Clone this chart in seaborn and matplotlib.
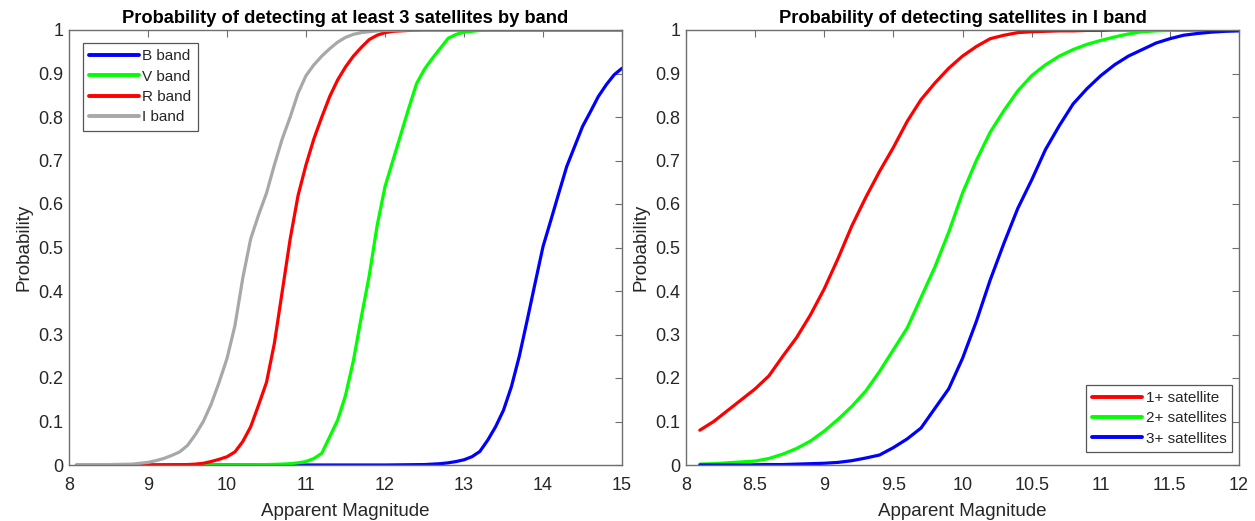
import matplotlib
matplotlib.use("Agg")
import matplotlib.pyplot as plt
import seaborn as sns
import pandas as pd

# ---------------- Left panel data ----------------
b_x = [8.1, 12.0, 12.5, 12.6, 12.7, 12.8, 12.9, 13.0, 13.1, 13.2, 13.3, 13.4, 13.5, 13.6, 13.7,
       13.8, 13.9, 14.0, 14.1, 14.2, 14.3, 14.4, 14.5, 14.6, 14.7, 14.8, 14.9, 15.0]
b_y = [0.0, 0.0, 0.001, 0.002, 0.003, 0.005, 0.008, 0.012, 0.019, 0.031, 0.057, 0.088, 0.126, 0.18, 0.25,
       0.333, 0.418, 0.502, 0.563, 0.625, 0.686, 0.732, 0.778, 0.812, 0.847, 0.874, 0.897, 0.912]

v_x = [8.1, 10.0, 10.5, 10.7, 10.8, 10.9, 11.0, 11.1, 11.2, 11.3, 11.4, 11.5, 11.6, 11.7, 11.8, 11.9,
       12.0, 12.1, 12.2, 12.3, 12.4, 12.5, 12.6, 12.7, 12.8, 12.9, 13.0, 13.1, 13.2, 13.3, 15.0]
v_y = [0.0, 0.0, 0.001, 0.002, 0.003, 0.005, 0.008, 0.015, 0.027, 0.065, 0.103, 0.16, 0.24, 0.34, 0.435, 0.55,
       0.64, 0.70, 0.76, 0.82, 0.877, 0.91, 0.935, 0.958, 0.981, 0.99, 0.995, 0.997, 0.999, 1.0, 1.0]

r_x = [8.1, 9.0, 9.5, 9.6, 9.7, 9.8, 9.9, 10.0, 10.1, 10.2, 10.3, 10.4, 10.5, 10.6, 10.7, 10.8, 10.9,
       11.0, 11.1, 11.2, 11.3, 11.4, 11.5, 11.6, 11.7, 11.8, 11.9, 12.0, 12.1, 12.2, 12.3, 12.5, 15.0]
r_y = [0.0, 0.0, 0.001, 0.002, 0.004, 0.008, 0.013, 0.019, 0.03, 0.054, 0.088, 0.138, 0.19, 0.28, 0.40, 0.52, 0.62,
       0.69, 0.75, 0.80, 0.847, 0.885, 0.915, 0.94, 0.96, 0.978, 0.988, 0.994, 0.997, 0.998, 0.999, 1.0, 1.0]

i_x = [8.1, 8.5, 8.8, 8.9, 9.0, 9.1, 9.2, 9.3, 9.4, 9.5, 9.6, 9.7, 9.8, 9.9, 10.0, 10.1, 10.2, 10.3,
       10.4, 10.5, 10.6, 10.7, 10.8, 10.9, 11.0, 11.1, 11.2, 11.3, 11.4, 11.5, 11.6, 11.7, 11.8, 11.9,
       12.0, 12.3, 15.0]
i_y = [0.001, 0.001, 0.002, 0.004, 0.006, 0.01, 0.015, 0.022, 0.03, 0.045, 0.07, 0.10, 0.14, 0.19, 0.245, 0.32, 0.43, 0.52,
       0.575, 0.625, 0.69, 0.75, 0.80, 0.855, 0.895, 0.92, 0.94, 0.957, 0.972, 0.983, 0.99, 0.994, 0.996, 0.998,
       0.999, 1.0, 1.0]

band_labels = ["B band", "V band", "R band", "I band"]
band_colors = ["#0000FF", "#00FF00", "#FF0000", "#A8A8A8"]

# ---------------- Right panel data ----------------
mag_right = [8.1, 8.2, 8.3, 8.4, 8.5, 8.6, 8.7, 8.8, 8.9, 9.0,
             9.1, 9.2, 9.3, 9.4, 9.5, 9.6, 9.7, 9.8, 9.9, 10.0,
             10.1, 10.2, 10.3, 10.4, 10.5, 10.6, 10.7, 10.8, 10.9, 11.0,
             11.1, 11.2, 11.3, 11.4, 11.5, 11.6, 11.7, 11.8, 11.9, 12.0]
sat1_y = [0.08, 0.10, 0.125, 0.15, 0.175, 0.205, 0.25, 0.293, 0.345, 0.405,
          0.475, 0.55, 0.615, 0.675, 0.73, 0.79, 0.84, 0.878, 0.912, 0.94,
          0.962, 0.98, 0.988, 0.994, 0.996, 0.997, 0.998, 0.998, 0.999, 0.999,
          1.0, 1.0, 1.0, 1.0, 1.0, 1.0, 1.0, 1.0, 1.0, 1.0]
sat2_y = [0.002, 0.003, 0.005, 0.007, 0.009, 0.015, 0.025, 0.038, 0.055, 0.078,
          0.105, 0.135, 0.17, 0.215, 0.265, 0.315, 0.385, 0.455, 0.535, 0.625,
          0.70, 0.765, 0.815, 0.86, 0.895, 0.92, 0.94, 0.955, 0.967, 0.976,
          0.984, 0.991, 0.996, 0.998, 0.999, 1.0, 1.0, 1.0, 1.0, 1.0]
sat3_y = [0.0, 0.0, 0.0, 0.0, 0.0005, 0.001, 0.001, 0.002, 0.003, 0.004,
          0.006, 0.01, 0.016, 0.023, 0.04, 0.06, 0.085, 0.13, 0.175, 0.245,
          0.33, 0.425, 0.51, 0.59, 0.655, 0.725, 0.78, 0.83, 0.865, 0.895,
          0.92, 0.94, 0.955, 0.97, 0.98, 0.988, 0.992, 0.995, 0.997, 0.998]

sat_labels = ["1+ satellite", "2+ satellites", "3+ satellites"]
sat_colors = ["#FF0000", "#00FF00", "#0000FF"]

left_title = "Probability of detecting at least 3 satellites by band"
right_title = "Probability of detecting satellites in I band"
x_label = "Apparent Magnitude"
y_label = "Probability"
y_ticks = [0, 0.1, 0.2, 0.3, 0.4, 0.5, 0.6, 0.7, 0.8, 0.9, 1]
y_ticklabels = ["0", "0.1", "0.2", "0.3", "0.4", "0.5", "0.6", "0.7", "0.8", "0.9", "1"]
left_xticks = [8, 9, 10, 11, 12, 13, 14, 15]
right_xticks = [8, 8.5, 9, 9.5, 10, 10.5, 11, 11.5, 12]
right_xticklabels = ["8", "8.5", "9", "9.5", "10", "10.5", "11", "11.5", "12"]

# ---------------- Build long-form frames ----------------
left_rows = []
for lab, xs, ys in zip(band_labels, [b_x, v_x, r_x, i_x], [b_y, v_y, r_y, i_y]):
    for xv, yv in zip(xs, ys):
        left_rows.append({"mag": xv, "prob": yv, "series": lab})
left_df = pd.DataFrame(left_rows)

right_rows = []
for lab, ys in zip(sat_labels, [sat1_y, sat2_y, sat3_y]):
    for xv, yv in zip(mag_right, ys):
        right_rows.append({"mag": xv, "prob": yv, "series": lab})
right_df = pd.DataFrame(right_rows)

# ---------------- Style ----------------
sns.set_theme(style="white")
plt.rcParams["font.family"] = ["Liberation Sans", "DejaVu Sans"]
plt.rcParams["xtick.direction"] = "in"
plt.rcParams["ytick.direction"] = "in"

fig = plt.figure(figsize=(12.55, 5.21), dpi=100)
ax1 = fig.add_axes([69 / 1255, 56 / 521, 553 / 1255, 435 / 521])
ax2 = fig.add_axes([686 / 1255, 56 / 521, 553 / 1255, 435 / 521])

sns.lineplot(data=left_df, x="mag", y="prob", hue="series", hue_order=band_labels,
             palette=dict(zip(band_labels, band_colors)), linewidth=2.3, sort=False,
             estimator=None, ax=ax1)
sns.lineplot(data=right_df, x="mag", y="prob", hue="series", hue_order=sat_labels,
             palette=dict(zip(sat_labels, sat_colors)), linewidth=2.3, sort=False,
             estimator=None, ax=ax2)

frame_color = "#6E6E6E"
for ax, xt, xtl, (xmin, xmax), title in [
    (ax1, left_xticks, [str(v) for v in left_xticks], (8, 15), left_title),
    (ax2, right_xticks, right_xticklabels, (8, 12), right_title),
]:
    ax.set_xlim(xmin, xmax)
    ax.set_ylim(0, 1)
    ax.set_xticks(xt)
    ax.set_xticklabels(xtl)
    ax.set_yticks(y_ticks)
    ax.set_yticklabels(y_ticklabels)
    ax.tick_params(axis="both", which="both", direction="in", length=5, width=0.8,
                   color=frame_color, labelsize=13, labelcolor="#262626",
                   top=True, right=True, pad=4)
    ax.tick_params(axis="x", pad=9)
    for sp in ax.spines.values():
        sp.set_visible(True)
        sp.set_color(frame_color)
        sp.set_linewidth(1.0)
    ax.set_xlabel(x_label, fontsize=13.5, color="#262626", labelpad=6)
    ax.set_ylabel(y_label, fontsize=13.5, color="#262626", labelpad=4)
    ax.set_title(title, fontsize=13.2, fontweight="bold", color="black", pad=5)
    ax.grid(False)

leg_kw = dict(fontsize=11, frameon=True, fancybox=False, edgecolor="#555555", framealpha=1,
              handlelength=3.3, handletextpad=0.2, borderpad=0.4, labelspacing=0.42,
              borderaxespad=0)

leg1 = ax1.legend(loc="upper left", bbox_to_anchor=(0.025, 0.97), **leg_kw)
leg1.get_frame().set_linewidth(0.9)
for ln in leg1.get_lines():
    ln.set_linewidth(2.8)

leg2 = ax2.legend(loc="lower right", bbox_to_anchor=(0.988, 0.03), **leg_kw)
leg2.get_frame().set_linewidth(0.9)
for ln in leg2.get_lines():
    ln.set_linewidth(2.8)

fig.savefig("out.png", dpi=100)
